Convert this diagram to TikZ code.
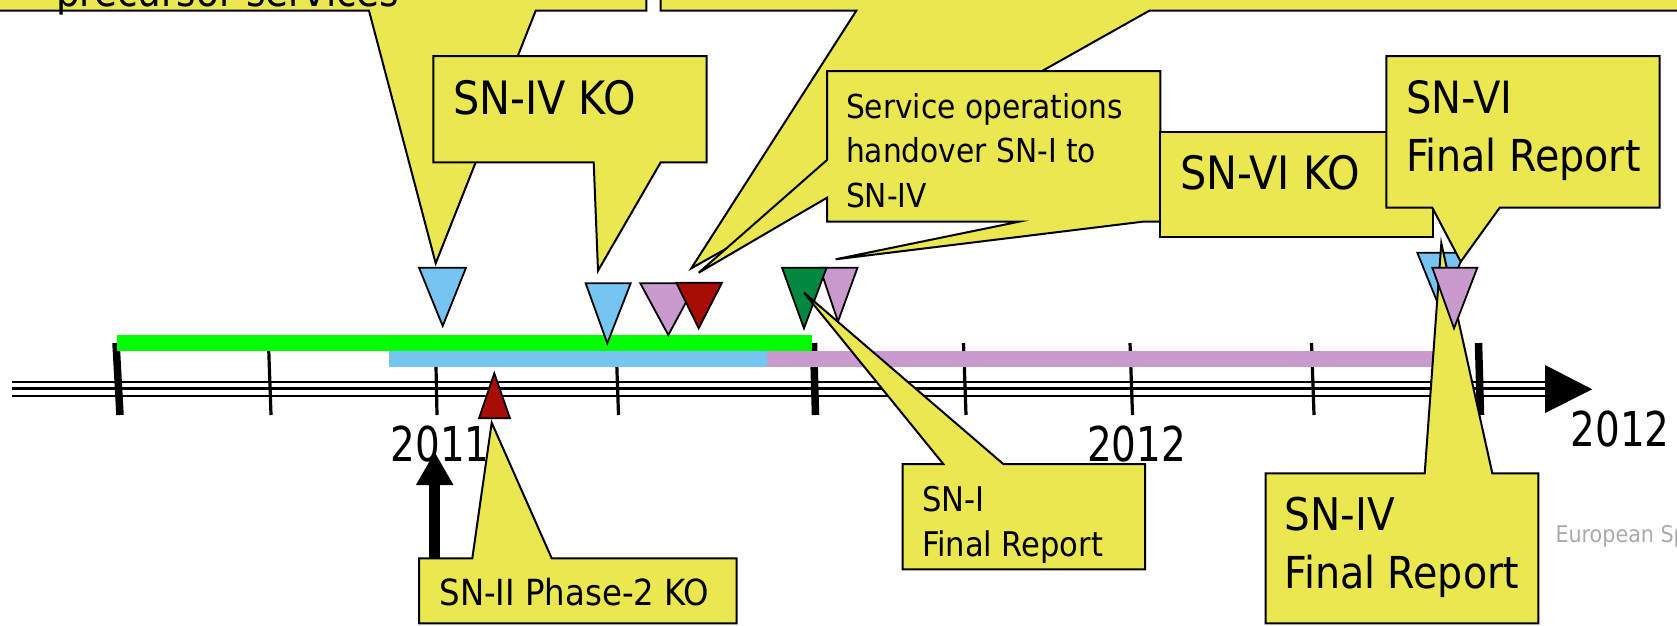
\documentclass[tikz,border=0pt]{standalone}
\usepackage{fontspec}
\setmainfont{DejaVu Sans Condensed}
\newfontfamily\yearfont[FakeStretch=0.9]{DejaVu Sans Condensed}
\usetikzlibrary{arrows.meta}
\newcommand{\setfs}[1]{\fontsize{#1pt}{#1pt}\selectfont}
\definecolor{calloutyellow}{RGB}{234,231,80}
\definecolor{markblue}{RGB}{117,196,242}
\definecolor{markpurple}{RGB}{200,154,206}
\definecolor{markred}{RGB}{168,13,5}
\definecolor{markgreen}{RGB}{0,136,65}
\definecolor{bargreen}{RGB}{0,255,0}
\definecolor{logogray}{RGB}{170,170,170}
\tikzset{
  callout/.style={fill=calloutyellow, draw=black, line width=2pt, line join=miter},
  marker/.style={draw=black, line width=1.8pt, line join=miter},
  lbl/.style={anchor=base west, inner sep=0pt, outer sep=0pt},
  year/.style={anchor=base, inner sep=0pt, outer sep=0pt, font={\yearfont\setfs{48}}},
  axisline/.style={line width=2.2pt},
  thicktick/.style={line width=7.5pt},
  thintick/.style={line width=3.2pt},
}
\begin{document}
\begin{tikzpicture}[x=1pt,y=-1pt]
\useasboundingbox (0,0) rectangle (1677,625);

% axis
\foreach \yy in {381.7,388.5,395.7}
  \draw[axisline] (11.7,\yy) -- (1546,\yy);
\fill (1545,365) -- (1592.3,389.3) -- (1545,413) -- cycle;

% ticks
\draw[thicktick] (116,343) -- (120,415);
\draw[thintick] (268.5,343) -- (271,415);
\draw[thintick] (435.5,343) -- (437,415);
\draw[thintick] (616,343) -- (618.5,415);
\draw[thicktick] (813.5,343) -- (815.5,415);
\draw[thintick] (963.5,343) -- (966,415);
\draw[thintick] (1130,343) -- (1132.5,415);
\draw[thintick] (1311.5,343) -- (1314,415);
\draw[thicktick] (1478.5,343) -- (1480.5,415);

% bars
\fill[bargreen] (117.3,335) rectangle (812.3,351);
\fill[markblue] (389,351) rectangle (766.7,366.7);
\fill[markpurple] (766.7,351) rectangle (1462.3,366.7);

% years
\node[year] (y2011) at (440.3,461.7) {2011};
\node[year] (y2012a) at (1136.5,461.7) {2012};
\node[year] (y2012b) at (1620.2,446.7) {2012};

% markers
\filldraw[marker, fill=markblue] (419,267.7) -- (466,267.7) -- (442.7,326) -- cycle;
\filldraw[marker, fill=markblue] (585.7,283.3) -- (630.7,283.3) -- (607.3,343.3) -- cycle;
\filldraw[marker, fill=markpurple] (640.3,283.3) -- (696.3,283.3) -- (668.3,335) -- cycle;
\filldraw[marker, fill=markred] (676.3,282.7) -- (722,282.7) -- (698.7,328.3) -- cycle;
\filldraw[marker, fill=markpurple] (819.8,267.7) -- (857.5,267.7) -- (838,321.5) -- cycle;
\filldraw[marker, fill=markgreen] (782,267.7) -- (826.6,267.7) -- (804,328.3) -- cycle;
\filldraw[marker, fill=markblue] (1417.3,252.7) -- (1464.3,252.7) -- (1440.8,310.7) -- cycle;

% top-left callout (cut off)
\filldraw[callout] (-10,-60) -- (646.3,-60) -- (646.3,10.7) -- (535.7,10.7)
  -- (435.7,263.3) -- (369,10.7) -- (-10,10.7) -- cycle;
\node[lbl, font=\setfs{41.5}] (tprec) at (56,6.5) {precursor services};

% SN-IV KO
\filldraw[callout] (433.3,56) -- (706.7,56) -- (706.7,162.3) -- (660.7,162.3)
  -- (598,270.7) -- (593.7,162.3) -- (433.3,162.3) -- cycle;
\node[lbl, font=\setfs{46}] (tsnivko) at (453,114.3) {SN-IV KO};

% top-middle callout (cut off)
\filldraw[callout] (660.7,-60) -- (1700,-60) -- (1700,10.7) -- (1149.3,10.7)
  -- (691.3,268.3) -- (856.3,10.7) -- (660.7,10.7) -- cycle;

% Service operations
\filldraw[callout] (827,71) -- (1160.3,71) -- (1160.3,221.7) -- (1142.6,221.7)
  -- (835.6,259.3) -- (1018.9,221.7) -- (827,221.7) -- (827,197.7)
  -- (698.7,272.7) -- (827,160) -- cycle;
\node[lbl, font=\setfs{33}] (tserv1) at (846,118.3) {Service operations};
\node[lbl, font=\setfs{33}] (tserv2) at (846,162.7) {handover SN-I to};
\node[lbl, font=\setfs{33}] (tserv3) at (846,207.3) {SN-IV};

% SN-VI KO
\filldraw[callout] (1160.3,131.7) rectangle (1432.7,237.3);
\node[lbl, font=\setfs{46}] (tsnviko) at (1180,189.3) {SN-VI KO};

% SN-VI Final Report
\filldraw[callout] (1386.3,56) -- (1659.7,56) -- (1659.7,207.7) -- (1499.7,207.7)
  -- (1460.7,261.7) -- (1432.3,207.7) -- (1386.3,207.7) -- cycle;
\node[lbl, font=\setfs{44.5}] (tsnvifr1) at (1406,113.3) {SN-VI};
\node[lbl, font=\setfs{44}] (tsnvifr2) at (1406,171.7) {Final Report};

% black arrow to 2011
\coordinate (arrowfoot) at (434.7,558.3);
\coordinate (arrowtip) at (434.7,451.7);
\draw[line width=11pt, -{Triangle[width=35pt,length=33.3pt]}] (arrowfoot) -- (arrowtip);

% SN-II Phase-2 KO
\filldraw[callout] (419,558.3) -- (472.3,558.3) -- (491.7,422.7) -- (551.7,558.3)
  -- (736.7,558.3) -- (736.7,623.3) -- (419,623.3) -- cycle;
\node[lbl, font=\setfs{36}] (tsnii) at (439.5,605) {SN-II Phase-2 KO};

% SN-I Final Report
\filldraw[callout] (902.7,464) -- (943.3,464) -- (804,292.7) -- (1003.3,464)
  -- (1145,464) -- (1145,569.3) -- (902.7,569.3) -- cycle;
\node[lbl, font=\setfs{34}] (tsni1) at (922,511.7) {SN-I};
\node[lbl, font=\setfs{34}] (tsni2) at (922,556) {Final Report};

% SN-IV Final Report
\filldraw[callout] (1265.7,473.3) -- (1424.7,473.3) -- (1441.3,243.3) -- (1492.3,473.3)
  -- (1538.3,473.3) -- (1538.3,623.3) -- (1265.7,623.3) -- cycle;
\node[lbl, font=\setfs{45}] (tsnivfr1) at (1284.5,530.7) {SN-IV};
\node[lbl, font=\setfs{44}] (tsnivfr2) at (1284.5,588.3) {Final Report};

% purple marker over SN-IV pointer
\filldraw[marker, fill=markpurple] (1432.3,267.7) -- (1477.3,267.7) -- (1454,328.3) -- cycle;

% red up marker
\filldraw[marker, fill=markred] (479,418.3) -- (510,418.3) -- (494.3,373.3) -- cycle;

% logo text
\node[lbl, font=\setfs{23}, text=logogray] (tesa) at (1555.5,542.7) {European Sp};
\end{tikzpicture}
\end{document}
